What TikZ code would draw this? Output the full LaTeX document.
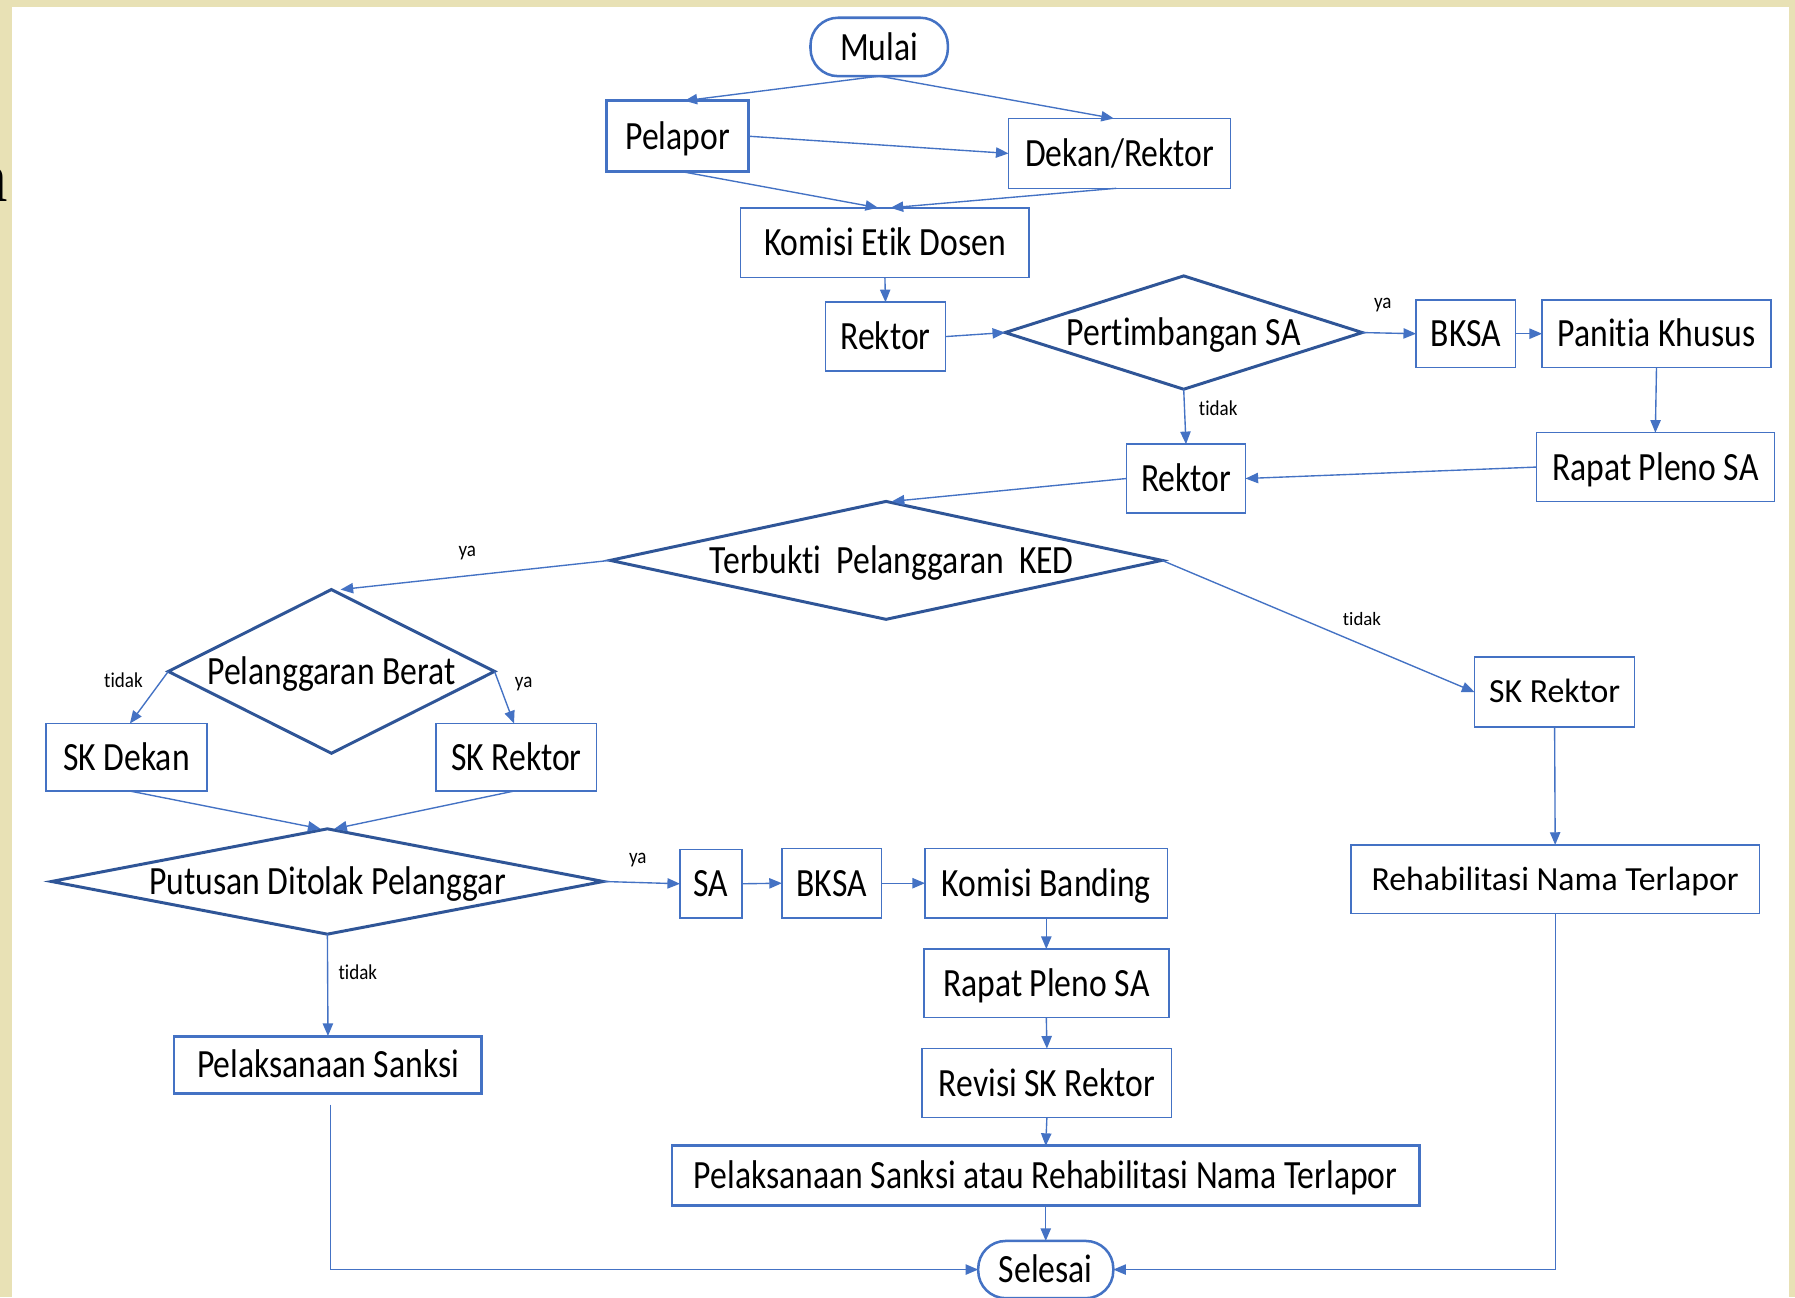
\documentclass[tikz,border=0pt]{standalone}
\usepackage{fontspec}
\setmainfont{Carlito}[Ligatures=CommonOff]
\newfontfamily\condfont{Carlito}[FakeStretch=0.84, Ligatures=CommonOff]
\newfontfamily\lblfont{Carlito}[FakeStretch=0.9, Ligatures=CommonOff]
\newfontfamily\pagefont{Liberation Serif}
\usetikzlibrary{positioning,shapes.geometric,arrows.meta}

\definecolor{boxblue}{RGB}{68,114,196}
\definecolor{diablue}{RGB}{47,85,151}
\definecolor{pagebeige}{RGB}{232,225,181}

\begin{document}
\begin{tikzpicture}[
    x=1pt, y=-1pt,
 mybox/.style = {
        draw=boxblue, rectangle, align=center, line width=1.3pt,
        inner sep=0pt, outer sep=0pt, text height=23pt, text depth=0pt,
        font=\condfont\fontsize{35}{40}\selectfont},
 widebox/.style = {
        mybox, text height=19pt, font=\fontsize{29.5}{34}\selectfont},
thickbox/.style = {mybox, line width=2.6pt},
terminal/.style = {mybox, line width=2.2pt, rounded corners=24pt},
decision/.style = {
        draw=diablue, diamond, line width=2.6pt,
        inner sep=0pt, outer sep=0pt},
   dtext/.style = {font=\condfont\fontsize{35}{40}\selectfont,
                   inner sep=0pt, text height=23pt, text depth=0pt},
      wh/.style 2 args = {minimum width=#1pt, minimum height=#2pt},
     lbl/.style = {font=\lblfont\fontsize{18.5}{20}\selectfont, inner sep=1pt},
    lbl2/.style = {font=\fontsize{16.5}{19}\selectfont, inner sep=1pt},
   arrow/.style = {draw=boxblue, line width=1.2pt,
                   -{Triangle[length=11pt,width=9pt]}}
                    ]
% the page behind
\useasboundingbox (0,0) rectangle (1568,1133);
\fill[pagebeige] (0,0) rectangle (1568,1133);
\fill[white] (10.5,6) rectangle (1563,1140);
\node (pg) [anchor=base east, inner sep=0pt,
            font=\pagefont\fontsize{62}{70}\selectfont] at (7,176) {n};
% the top part
\node (n1)  [terminal, wh={120}{51}]  at (768,41)     {Mulai};
\node (n2a) [thickbox, wh={124}{62}]  at (592,119)    {Pelapor};
\node (n2b) [mybox, wh={194}{61}]     at (978,134)    {Dekan/Rektor};
\node (n3)  [mybox, wh={252}{61}]     at (773,212)    {Komisi Etik Dosen};
\node (n4)  [mybox, wh={105}{60}]     at (773.5,294)  {Rektor};
\node (d1)  [decision, wh={312}{99}]  at (1034,290.5) {};
\node (t1)  [dtext] at (d1) {Pertimbangan SA};
\node (n4a) [mybox, wh={87}{59}]      at (1280.5,291.5) {BKSA};
\node (n4b) [mybox, wh={200}{59}]     at (1447,291.5) {Panitia Khusus};
\node (n5)  [mybox, wh={208}{60}]     at (1446,408)   {Rapat Pleno SA};
\node (n6)  [mybox, wh={104}{60}]     at (1036,418)   {Rektor};
% the middle part
\node (d2)  [decision, wh={482}{103}] at (774,489.5)  {};
\node (t2)  [dtext] at ([xshift=5pt]d2.center) {Terbukti\ \ Pelanggaran\ \ KED};
\node (d3)  [decision, wh={285}{143}] at (289.5,586.5) {};
\node (t3)  [dtext] at (d3) {Pelanggaran Berat};
\node (n7a) [mybox, wh={141}{59}]     at (110.5,661.5) {SK Dekan};
\node (n7b) [mybox, wh={140}{59}]     at (451,661.5)  {SK Rektor};
\node (n7r) [widebox, wh={140}{61}]   at (1358,604.5) {SK Rektor};
\node (n8r) [widebox, wh={357}{60}]   at (1358.5,768) {Rehabilitasi Nama Terlapor};
% the bottom part
\node (d4)  [decision, wh={482}{92}]  at (286,770)    {};
\node (t4)  [dtext] at (d4) {Putusan Ditolak Pelanggar};
\node (n9a) [mybox, wh={54}{60}]      at (621,772)    {SA};
\node (n9b) [mybox, wh={87}{61}]      at (726.5,771.5) {BKSA};
\node (n9c) [mybox, wh={212}{61}]     at (914,771.5)  {Komisi Banding};
\node (n10) [mybox, wh={214}{60}]     at (914,859)    {Rapat Pleno SA};
\node (n11) [mybox, wh={218}{60}]     at (914.5,946)  {Revisi SK Rektor};
\node (n9l) [thickbox, wh={269}{50}]  at (286.5,930)  {Pelaksanaan Sanksi};
\node (n12) [thickbox, wh={653}{52}]  at (913.5,1027)
            {Pelaksanaan Sanksi atau Rehabilitasi Nama Terlapor};
\node (n13) [terminal, wh={118}{50}]  at (913.5,1109) {Selesai};
% connectors
\draw[arrow] (n1.south) -- ([xshift=6pt]n2a.north);
\draw[arrow] (n1.south) -- ([xshift=-5pt]n2b.north);
\draw[arrow] (n2a.east) -- (n2b.west);
\draw[arrow] ([xshift=4pt]n2a.south) -- ([xshift=-6pt]n3.north);
\draw[arrow] ([xshift=-3pt]n2b.south) -- ([xshift=5pt]n3.north);
\draw[arrow] (n3.south) -- (n4.north);
\draw[arrow] (n4.east) -- (d1.west);
\draw[arrow] (d1.east) -- node[lbl, pos=.38, yshift=24pt] {ya} (n4a.west);
\draw[arrow] (n4a.east) -- (n4b.west);
\draw[arrow] (n4b.south) -- (n5.north);
\draw[arrow] (d1.south) -- node[lbl, pos=.35, anchor=west, xshift=11pt] {tidak} (n6.north);
\draw[arrow] (n5.west) -- (n6.east);
\draw[arrow] (n6.west) -- ([xshift=5pt]d2.north);
\draw[arrow] (d2.west) -- node[lbl, pos=.53, yshift=20pt] {ya} ([xshift=8pt]d3.north);
\draw[arrow] (d2.east) -- node[lbl2, pos=.64, yshift=22pt] {tidak} (n7r.west);
\draw[arrow] (d3.west) -- node[lbl, pos=.17, anchor=east, xshift=-15pt] {tidak} ([xshift=3pt]n7a.north);
\draw[arrow] (d3.east) -- node[lbl, pos=.25, anchor=west, xshift=12pt] {ya} ([xshift=-2pt]n7b.north);
\draw[arrow] ([xshift=3pt]n7a.south) -- ([xshift=-6pt]d4.north);
\draw[arrow] ([xshift=-2pt]n7b.south) -- ([xshift=6pt]d4.north);
\draw[arrow] (d4.east) -- node[lbl, pos=.45, yshift=20pt] {ya} (n9a.west);
\draw[arrow] (n9a.east) -- (n9b.west);
\draw[arrow] (n9b.east) -- (n9c.west);
\draw[arrow] (n9c.south) -- (n10.north);
\draw[arrow] (n10.south) -- (n11.north);
\draw[arrow] (n11.south) -- (n12.north);
\draw[arrow] (n12.south) -- (n13.north);
\draw[arrow] (d4.south) -- node[lbl, pos=.37, anchor=west, xshift=8pt] {tidak} (n9l.north);
% lines round to the end
\draw[arrow] ([xshift=2pt,yshift=-10pt]n9l.south) |- (n13.west);
\draw[arrow] (n7r.south) -- (n8r.north);
\draw[arrow] (n8r.south) |- (n13.east);
\end{tikzpicture}
\end{document}
